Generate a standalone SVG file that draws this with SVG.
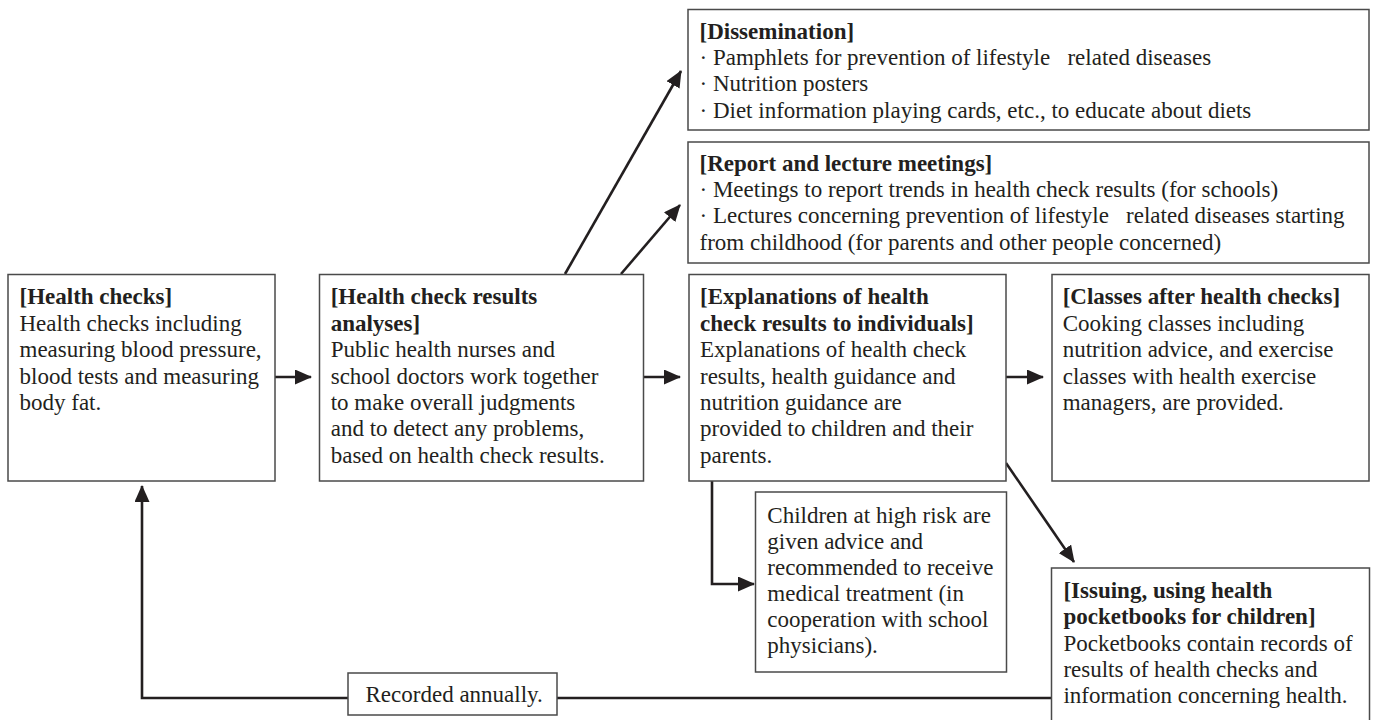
<svg xmlns="http://www.w3.org/2000/svg" width="1375" height="720" viewBox="0 0 1375 720">
<style>
.box{fill:#fff;stroke:#4a4a4a;stroke-width:1.5}
.t{font-family:"Liberation Serif","Times New Roman",serif;font-size:23px;fill:#231f20}
.b{font-weight:bold}
.c{fill:none;stroke:#231f20;stroke-width:2.6}
</style>
<defs>
<marker id="ah" viewBox="0 0 17 15" refX="16" refY="7.5" markerWidth="17" markerHeight="15" markerUnits="userSpaceOnUse" orient="auto">
<path d="M0,0 L17,7.5 L0,15 z" fill="#231f20"/>
</marker>
</defs>
<rect width="1375" height="720" fill="#fff"/>

<g id="connectors">
<line class="c" x1="275" y1="377" x2="311" y2="377" marker-end="url(#ah)"/>
<line class="c" x1="643" y1="377" x2="680" y2="377" marker-end="url(#ah)"/>
<line class="c" x1="1006" y1="377" x2="1043" y2="377" marker-end="url(#ah)"/>
<line class="c" x1="565" y1="274" x2="681" y2="71" marker-end="url(#ah)"/>
<line class="c" x1="621" y1="274" x2="680" y2="205" marker-end="url(#ah)"/>
<polyline class="c" points="712,481 712,584 754,584" marker-end="url(#ah)"/>
<line class="c" x1="1006" y1="463" x2="1074" y2="562" marker-end="url(#ah)"/>
<polyline class="c" points="1051,698 142,698 142,486" marker-end="url(#ah)"/>
</g>

<g id="dissemination">
<rect class="box" x="688" y="9.5" width="681" height="120.5"/>
<text class="t" xml:space="preserve"><tspan class="b" x="699.5" y="38.5">[Dissemination]</tspan><tspan x="699.5" y="65">· Pamphlets for prevention of lifestyle   related diseases</tspan><tspan x="699.5" y="91">· Nutrition posters</tspan><tspan x="699.5" y="117.5">· Diet information playing cards, etc., to educate about diets</tspan></text>
</g>

<g id="report">
<rect class="box" x="688" y="142" width="681" height="121"/>
<text class="t" xml:space="preserve"><tspan class="b" x="699.5" y="170.5">[Report and lecture meetings]</tspan><tspan x="699.5" y="197">· Meetings to report trends in health check results (for schools)</tspan><tspan x="699.5" y="223">· Lectures concerning prevention of lifestyle   related diseases starting</tspan><tspan x="699.5" y="249.5">from childhood (for parents and other people concerned)</tspan></text>
</g>

<g id="health-checks">
<rect class="box" x="8" y="274.5" width="267" height="206.5"/>
<text class="t"><tspan class="b" x="19.5" y="304.3">[Health checks]</tspan><tspan x="19.5" y="330.7">Health checks including</tspan><tspan x="19.5" y="357.1">measuring blood pressure,</tspan><tspan x="19.5" y="383.5">blood tests and measuring</tspan><tspan x="19.5" y="409.9">body fat.</tspan></text>
</g>

<g id="analyses">
<rect class="box" x="319.5" y="274.5" width="324" height="206.5"/>
<text class="t"><tspan class="b" x="330.7" y="304.3">[Health check results</tspan><tspan class="b" x="330.7" y="330.7">analyses]</tspan><tspan x="330.7" y="357.1">Public health nurses and</tspan><tspan x="330.7" y="383.5">school doctors work together</tspan><tspan x="330.7" y="409.9">to make overall judgments</tspan><tspan x="330.7" y="436.3">and to detect any problems,</tspan><tspan x="330.7" y="462.7">based on health check results.</tspan></text>
</g>

<g id="explanations">
<rect class="box" x="689" y="274.5" width="317" height="206.5"/>
<text class="t"><tspan class="b" x="700" y="304.3">[Explanations of health</tspan><tspan class="b" x="700" y="330.7">check results to individuals]</tspan><tspan x="700" y="357.1">Explanations of health check</tspan><tspan x="700" y="383.5">results, health guidance and</tspan><tspan x="700" y="409.9">nutrition guidance are</tspan><tspan x="700" y="436.3">provided to children and their</tspan><tspan x="700" y="462.7">parents.</tspan></text>
</g>

<g id="classes">
<rect class="box" x="1052" y="274.5" width="317" height="206.5"/>
<text class="t"><tspan class="b" x="1062.7" y="304.3">[Classes after health checks]</tspan><tspan x="1062.7" y="330.7">Cooking classes including</tspan><tspan x="1062.7" y="357.1">nutrition advice, and exercise</tspan><tspan x="1062.7" y="383.5">classes with health exercise</tspan><tspan x="1062.7" y="409.9">managers, are provided.</tspan></text>
</g>

<g id="high-risk">
<rect class="box" x="755.5" y="492" width="251" height="180"/>
<text class="t"><tspan x="767.3" y="522.5">Children at high risk are</tspan><tspan x="767.3" y="548.5">given advice and</tspan><tspan x="767.3" y="574.5">recommended to receive</tspan><tspan x="767.3" y="600.5">medical treatment (in</tspan><tspan x="767.3" y="626.5">cooperation with school</tspan><tspan x="767.3" y="652.5">physicians).</tspan></text>
</g>

<g id="issuing">
<rect class="box" x="1051.5" y="568" width="318" height="170"/>
<text class="t"><tspan class="b" x="1063.4" y="598.3">[Issuing, using health</tspan><tspan class="b" x="1063.4" y="624.3">pocketbooks for children]</tspan><tspan x="1063.4" y="650.5">Pocketbooks contain records of</tspan><tspan x="1063.4" y="676.7">results of health checks and</tspan><tspan x="1063.4" y="702.7">information concerning health.</tspan></text>
</g>

<g id="recorded">
<rect class="box" x="348" y="673" width="209" height="42"/>
<text class="t" x="365.5" y="702">Recorded annually.</text>
</g>
</svg>
